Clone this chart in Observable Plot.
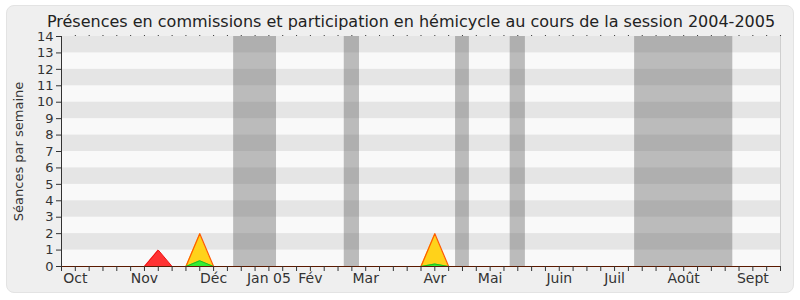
<!DOCTYPE html>
<html lang="fr">
<head>
<meta charset="utf-8">
<script src="https://cdn.jsdelivr.net/npm/d3@7"></script>
<script src="https://cdn.jsdelivr.net/npm/@observablehq/plot@0.6"></script>
<style>
  body { margin: 0; background: #ffffff; }
  #wrap { position: relative; width: 800px; height: 300px; overflow: hidden; }
  #panel {
    position: absolute; left: 6px; top: 5px; width: 788px; height: 288px;
    box-sizing: border-box; background: #efefef;
    border: 1px solid #e3e3e3; border-radius: 8px;
  }
  #title {
    position: absolute; left: 11px; top: 12px; width: 800px; height: 24px;
    text-align: center; font: 16px "DejaVu Sans", sans-serif; color: #222;
    white-space: nowrap;
  }
  #chart { position: absolute; left: 0; top: 28px; }
</style>
</head>
<body>
<div id="wrap">
  <div id="panel"></div>
  <div id="title">Présences en commissions et participation en hémicycle au cours de la session 2004-2005</div>
  <div id="chart"></div>
</div>
<script>
// Semaines de la session (0 à 52)
const semaines = d3.range(53);

// Séances par semaine
const commissions = [
  0, 0, 0, 0, 0, 0, 0, 1, 0, 0,
  0, 0, 0, 0, 0, 0, 0, 0, 0, 0,
  0, 0, 0, 0, 0, 0, 0, 0, 0, 0,
  0, 0, 0, 0, 0, 0, 0, 0, 0, 0,
  0, 0, 0, 0, 0, 0, 0, 0, 0, 0,
  0, 0, 0
];
const hemicycle = [
  0, 0, 0, 0, 0, 0, 0, 0, 0, 0,
  2, 0, 0, 0, 0, 0, 0, 0, 0, 0,
  0, 0, 0, 0, 0, 0, 0, 2, 0, 0,
  0, 0, 0, 0, 0, 0, 0, 0, 0, 0,
  0, 0, 0, 0, 0, 0, 0, 0, 0, 0,
  0, 0, 0
];
const interventions = [
  0, 0, 0, 0, 0, 0, 0, 0, 0, 0,
  0.35, 0, 0, 0, 0, 0, 0, 0, 0, 0,
  0, 0, 0, 0, 0, 0, 0, 0.15, 0, 0,
  0, 0, 0, 0, 0, 0, 0, 0, 0, 0,
  0, 0, 0, 0, 0, 0, 0, 0, 0, 0,
  0, 0, 0
];

// Périodes de suspension des travaux (en semaines)
const vacancesDebut = [12.45, 20.45, 28.5, 32.45, 41.45];
const vacancesFin   = [15.55, 21.55, 29.5, 33.55, 48.55];

// Étiquettes des mois
const moisSemaines = [1, 6, 11, 15, 18, 22, 27, 31, 36, 40, 45, 50];
const moisNoms = ["Oct", "Nov", "Déc", "Jan 05", "Fév", "Mar", "Avr", "Mai", "Juin", "Juil", "Août", "Sept"];

// Graduations verticales
const yTicks = d3.range(0, 15);

const serie = (values) => semaines.map((s, i) => ({semaine: s, valeur: values[i]}));
const bandes = yTicks.filter((t) => t % 2 === 1).map((t) => ({y1: t, y2: t + 1}));
const vacances = vacancesDebut.map((d, i) => ({debut: d, fin: vacancesFin[i]}));

const chart = Plot.plot({
  width: 800,
  height: 272,
  marginTop: 8,
  marginBottom: 34,
  marginLeft: 61,
  marginRight: 20,
  style: {background: "transparent", fontFamily: "DejaVu Sans, sans-serif", fontSize: "13px", color: "#333"},
  x: {domain: [0, 52]},
  y: {domain: [0, 14]},
  marks: [
    Plot.rect([0], {x1: 0, x2: 52, y1: 0, y2: 14, fill: "#f9f9f9"}),
    Plot.rect(bandes, {x1: 0, x2: 52, y1: "y1", y2: "y2", fill: "#e5e5e5"}),
    Plot.dot(semaines.slice(1), {x: (d) => d, y: 14, r: 0.6, fill: "#222", stroke: null, dy: -1}),
    Plot.rect(vacances, {x1: "debut", x2: "fin", y1: 0, y2: 14, fill: "#5e5e5e", fillOpacity: 0.4}),
    Plot.areaY(serie(commissions), {x: "semaine", y: "valeur", fill: "#ff3333"}),
    Plot.lineY(serie(commissions), {x: "semaine", y: "valeur", stroke: "#ee1111", strokeWidth: 1}),
    Plot.areaY(serie(hemicycle), {x: "semaine", y: "valeur", fill: "#ffd21a"}),
    Plot.lineY(serie(hemicycle), {x: "semaine", y: "valeur", stroke: "#ff5a00", strokeWidth: 1.2}),
    Plot.areaY(serie(interventions), {x: "semaine", y: "valeur", fill: "#33ee33"}),
    Plot.lineY(serie(interventions), {x: "semaine", y: "valeur", stroke: "#22bb22", strokeWidth: 1}),
    Plot.ruleX([52], {stroke: "#cfcfcf"}),
    Plot.ruleY([0], {stroke: "#5a1a00", strokeWidth: 1.2}),
    Plot.ruleX([0], {stroke: "#333"}),
    Plot.axisY({ticks: yTicks, tickSize: 5, tickPadding: 3, tickFormat: (d) => String(d), label: null, stroke: "#333", fill: "#333"}),
    Plot.axisX({ticks: semaines, tickSize: 5, tickFormat: () => "", label: null, stroke: "#333"}),
    Plot.axisX({ticks: moisSemaines, tickSize: 0, tickPadding: 7, tickFormat: (d) => moisNoms[moisSemaines.indexOf(d)], label: null, fill: "#333", fontSize: 14}),
    Plot.text(["Séances par semaine"], {frameAnchor: "left", textAnchor: "middle", rotate: -90, dx: -43, fill: "#333", fontSize: 13})
  ]
});

document.getElementById("chart").appendChild(chart);
</script>
</body>
</html>
